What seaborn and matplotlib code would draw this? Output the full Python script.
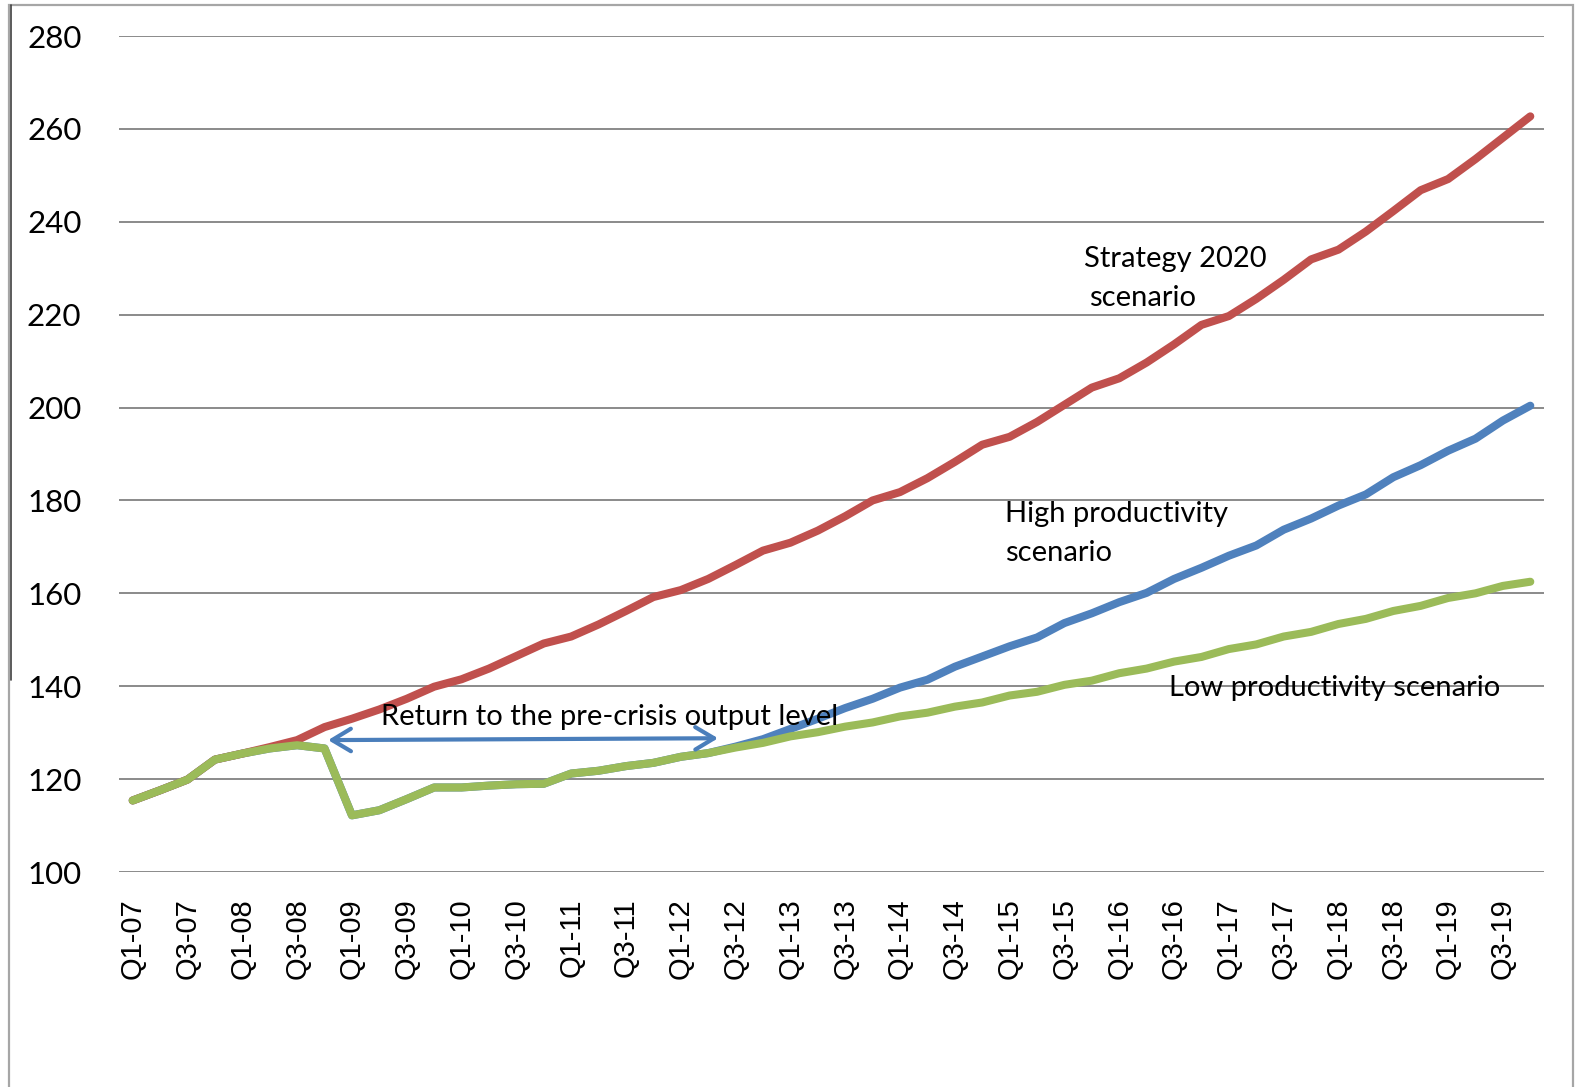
import matplotlib
matplotlib.use("Agg")
import matplotlib.pyplot as plt
from matplotlib.lines import Line2D
from matplotlib.patches import Rectangle
import numpy as np
import pandas as pd
import seaborn as sns

# Quarterly output index, Q1-07 .. Q4-19
years = list(range(7, 20))
quarters = [f"Q{q}-{y:02d}" for y in years for q in range(1, 5)]

strategy_2020 = [115.4, 117.6, 119.9, 124.2, 125.5, 126.9, 128.4, 131.2,
                 133.0, 135.0, 137.3, 139.9, 141.5, 143.8, 146.5, 149.2,
                 150.7, 153.3, 156.2, 159.2, 160.7, 163.1, 166.1, 169.2,
                 170.9, 173.5, 176.6, 180.0, 181.8, 184.8, 188.3, 192.0,
                 193.7, 196.9, 200.6, 204.3, 206.3, 209.7, 213.6, 217.8,
                 219.7, 223.4, 227.5, 231.9, 234.0, 237.9, 242.3, 246.8,
                 249.2, 253.5, 258.1, 262.7]

high_productivity = [115.4, 117.6, 119.9, 124.2, 125.5, 126.6, 127.3, 126.6,
                     112.2, 113.3, 115.7, 118.2, 118.2, 118.6, 118.9, 119.0,
                     121.2, 121.8, 122.8, 123.5, 124.8, 125.6, 127.0, 128.6,
                     130.8, 133.0, 135.3, 137.3, 139.7, 141.4, 144.2, 146.4,
                     148.6, 150.5, 153.6, 155.7, 158.1, 160.1, 163.1, 165.5,
                     168.1, 170.3, 173.7, 176.1, 178.9, 181.3, 185.0, 187.6,
                     190.7, 193.3, 197.2, 200.4]

low_productivity = [115.4, 117.6, 119.9, 124.2, 125.5, 126.6, 127.3, 126.6,
                    112.2, 113.3, 115.7, 118.2, 118.2, 118.6, 118.9, 119.0,
                    121.2, 121.8, 122.8, 123.5, 124.8, 125.6, 126.8, 127.8,
                    129.2, 130.1, 131.3, 132.2, 133.5, 134.3, 135.6, 136.5,
                    138.0, 138.8, 140.3, 141.2, 142.8, 143.8, 145.3, 146.3,
                    148.0, 149.0, 150.7, 151.7, 153.4, 154.5, 156.2, 157.3,
                    159.0, 160.0, 161.6, 162.5]

series_names = ["High productivity", "Strategy 2020", "Low productivity"]
series_colors = ["#4F81BD", "#C0504D", "#9BBB59"]

frames = []
for name, vals in zip(series_names, [high_productivity, strategy_2020, low_productivity]):
    frames.append(pd.DataFrame({"idx": np.arange(len(quarters)), "quarter": quarters,
                                "value": vals, "scenario": name}))
df = pd.concat(frames, ignore_index=True)

sns.set_theme(style="white")
plt.rcParams["font.family"] = ["Lato", "DejaVu Sans"]

W, H = 1579, 1087
fig = plt.figure(figsize=(W / 100, H / 100), dpi=100)
fig.patch.set_facecolor("white")
ax = fig.add_axes([119 / W, 1 - 872 / H, (1544 - 119) / W, (872 - 36) / H])

sns.lineplot(data=df, x="idx", y="value", hue="scenario", hue_order=series_names,
             palette=series_colors, linewidth=5.8, legend=False, sort=False, ax=ax)
for ln in ax.lines:
    ln.set_solid_capstyle("round")
    ln.set_solid_joinstyle("round")

ax.set_xlim(-0.5, len(quarters) - 0.5)
ax.set_ylim(100, 280)
ax.set_yticks(range(100, 281, 20))
ax.set_xticks(range(0, len(quarters), 2))
ax.set_xticklabels(quarters[::2], rotation=90, family=["Liberation Sans", "DejaVu Sans"],
                   fontsize=21)
for t in ax.get_yticklabels():
    t.set_fontsize(22.5)
ax.tick_params(axis="x", length=0, pad=19, colors="black")
ax.tick_params(axis="y", length=0, pad=27, colors="black")
ax.set_xlabel("")
ax.set_ylabel("")
ax.set_axisbelow(True)
ax.yaxis.grid(True, color="#8A8A8A", linewidth=1.4)
ax.xaxis.grid(False)
for s in ax.spines.values():
    s.set_visible(False)

# Recovery arrow and scenario labels
ax.annotate("", xy=(7.13, 128.4), xytext=(21.36, 128.8),
            arrowprops=dict(arrowstyle="<->,head_length=0.45,head_width=0.27",
                            color="#4A7EBB", lw=3.0, mutation_scale=30,
                            shrinkA=0, shrinkB=0))
text_kw = dict(fontsize=21, color="black", va="center", ha="left")
ax.text(9.05, 133.4, "Return to the pre-crisis output level", **text_kw)
ax.text(34.7, 232.0, "Strategy 2020", **text_kw)
ax.text(34.9, 223.6, "scenario", **text_kw)
ax.text(31.84, 177.0, "High productivity", **text_kw)
ax.text(31.84, 168.7, "scenario", **text_kw)
ax.text(37.8, 139.7, "Low productivity scenario", **text_kw)

# Chart frame
fig.add_artist(Rectangle((9 / W, -0.01), (1573 - 9) / W, 1.01 - 5 / H,
                         transform=fig.transFigure, fill=False,
                         edgecolor="#A6A6A6", linewidth=1.6))
fig.add_artist(Line2D([11 / W, 11 / W], [1 - 5 / H, 1 - 680 / H],
                      transform=fig.transFigure, color="#404040", linewidth=1.2))

fig.savefig("out.png", dpi=100, facecolor="white")
